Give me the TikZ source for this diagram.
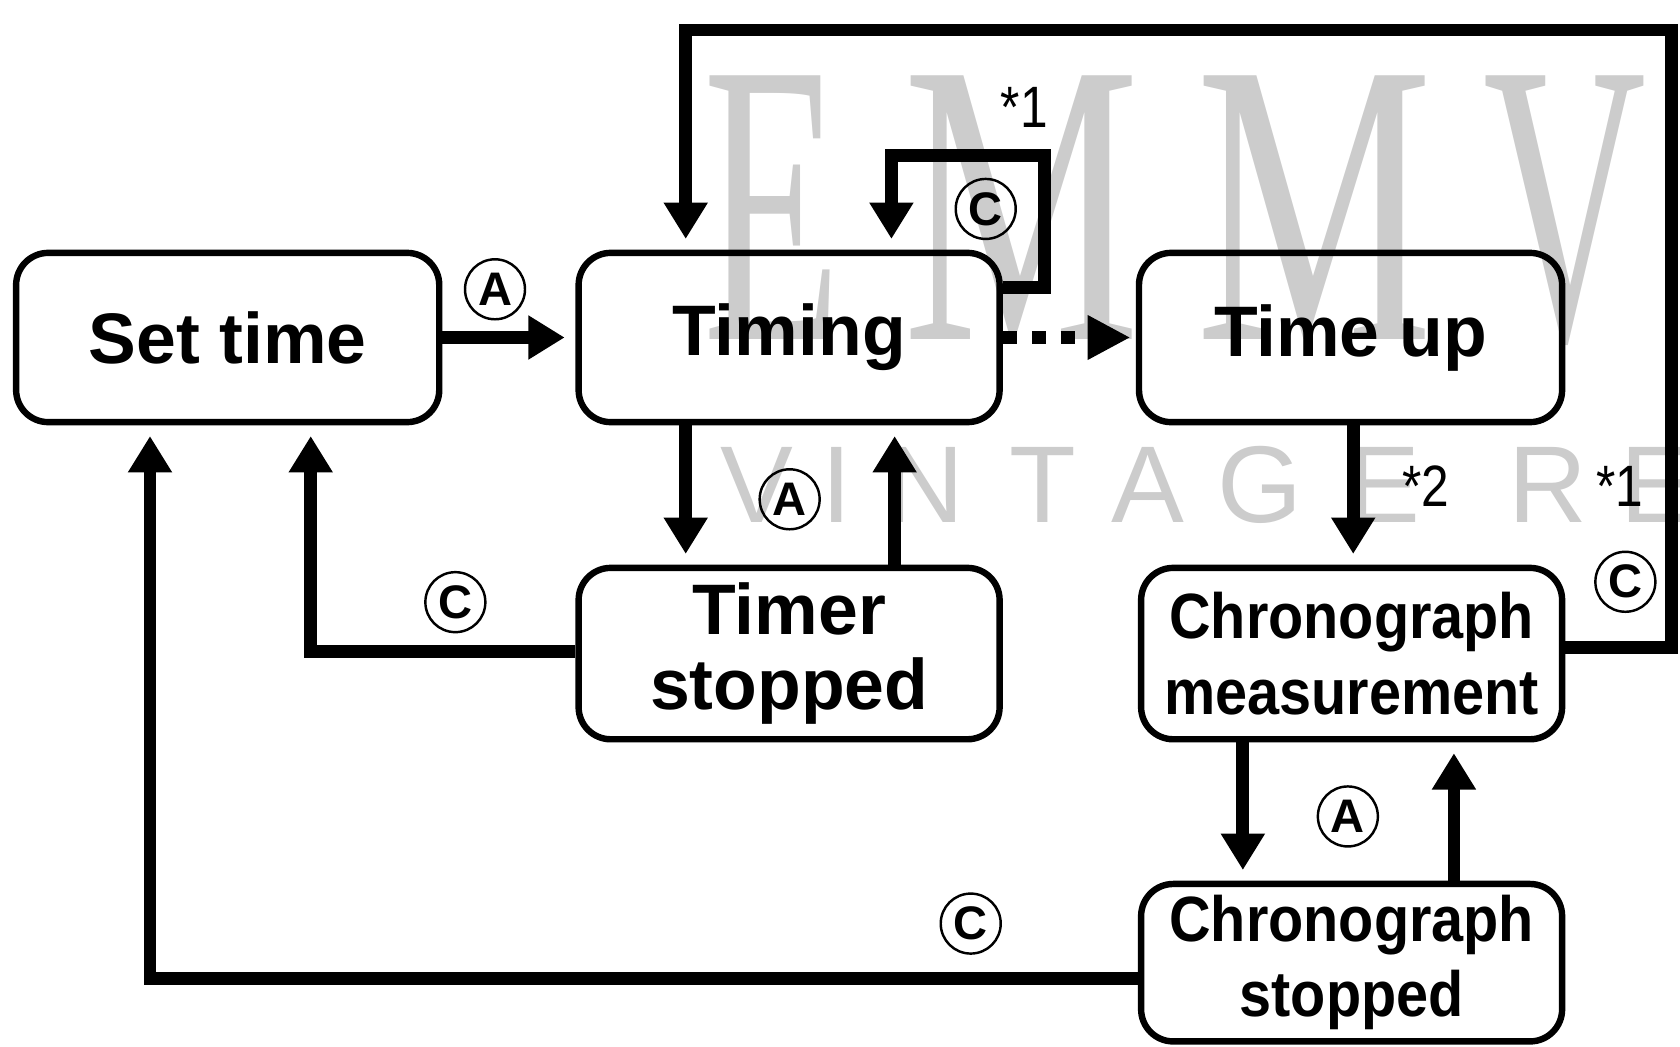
\documentclass[tikz,border=0pt]{standalone}
\usepackage{fontspec}
\setmainfont{Liberation Sans}
\newfontfamily\narrowsans[FakeStretch=0.9]{Liberation Sans}
\newfontfamily\thinsans[FakeStretch=0.85]{Liberation Sans}
\newfontfamily\wmserif{Liberation Serif}
\usetikzlibrary{arrows.meta}
\definecolor{wmgray}{RGB}{204,204,204}
\begin{document}
\begin{tikzpicture}[x=0.02cm, y=-0.02cm,
  box/.style={draw, line width=0.12cm, rounded corners=0.6cm, minimum width=7.86cm,
    minimum height=3.16cm, inner sep=0pt, align=center,
    font=\bfseries\fontsize{38}{40}\selectfont},
  narrowbox/.style={box, font=\narrowsans\bfseries\fontsize{34}{40}\selectfont},
  flow/.style={line width=0.24cm, -{Triangle[width=0.78cm,length=0.68cm]}, shorten >=0.2cm},
  dotflow/.style={line width=0.24cm, dash pattern=on 0.26cm off 0.28cm,
    -{Triangle[width=0.78cm,length=0.8cm]}, shorten >=0.1cm},
  circ/.style={draw, circle, line width=1.3pt, minimum size=1.12cm, inner sep=0pt,
    font=\bfseries\fontsize{25}{25}\selectfont},
  note/.style={font=\thinsans\fontsize{31}{31}\selectfont, inner sep=0pt, anchor=base},
  wms/.style={text=wmgray, inner sep=0pt, anchor=base, font=\wmserif\fontsize{214}{214}\selectfont},
  wmv/.style={text=wmgray, inner sep=0pt, anchor=base, font=\fontsize{58}{58}\selectfont}
]
\useasboundingbox (0,0) rectangle (1568,977);
% watermark
\begin{scope}
\clip (0,0) rectangle (1568,977);
\node[wms] (wE) at (721,317) {\scalebox{0.56}[1]{E}};
\node[wms] (wM1) at (954,317) {\scalebox{0.66}[1]{M}};
\node[wms] (wM2) at (1227,317) {\scalebox{0.66}[1]{M}};
\node[wms] (wV) at (1461,317) {\scalebox{0.56}[1]{V}};
\node[wmv] (v1) at (706,488) {V};
\node[wmv] (v2) at (781,488) {I};
\node[wmv] (v3) at (863,488) {N};
\node[wmv] (v4) at (973,488) {T};
\node[wmv] (v5) at (1071,488) {A};
\node[wmv] (v6) at (1176,488) {G};
\node[wmv] (v7) at (1292,488) {E};
\node[wmv] (v8) at (1445,488) {R};
\node[wmv] (v9) at (1546,488) {E};
\end{scope}

% states
\node[box, minimum width=7.9cm] (settime) at (212.5,315) {Set time};
\node[box] (timing) at (736.5,315) {Timing};
\node[box, minimum width=7.9cm] (timeup) at (1260.5,315) {Time up};
\node[box, minimum height=3.2cm] (timerstop) at (736.5,610) {Timer\\stopped};
\node[narrowbox, minimum height=3.2cm] (chronomeas) at (1261.5,610) {Chronograph\\measurement};
\node[narrowbox, minimum height=2.94cm] (chronostop) at (1261.5,898.5) {Chronograph\\stopped};

% connectors
\draw[flow] (settime.east) -- (timing.west);
\draw[dotflow] (timing.east) -- (timeup.west);
\draw[flow] (timing.east |- 0,268) -- (975,268) -- (975,145) -- (832,145) -- (timing.north -| 832,0);
\draw[flow] (chronomeas.east |- 0,604) -- (1560,604) -- (1560,28) -- (640,28) -- (timing.north -| 640,0);
\draw[flow] (timing.south -| 640,0) -- (timerstop.north -| 640,0);
\draw[flow] (timerstop.north -| 835,0) -- (timing.south -| 835,0);
\draw[flow] (timerstop.west |- 0,608) -- (290,608) -- (settime.south -| 290,0);
\draw[flow] (timeup.south -| 1263,0) -- (chronomeas.north -| 1263,0);
\draw[flow] (chronomeas.south -| 1160,0) -- (chronostop.north -| 1160,0);
\draw[flow] (chronostop.north -| 1357,0) -- (chronomeas.south -| 1357,0);
\draw[flow] (chronostop.west |- 0,913) -- (140,913) -- (settime.south -| 140,0);

% button labels
\node[circ] (l1) at (462,270) {A};
\node[circ] (l2) at (920,195) {C};
\node[circ] (l3) at (737,466) {A};
\node[circ] (l4) at (425,562) {C};
\node[circ] (l5) at (1517,543) {C};
\node[circ] (l6) at (1258,762) {A};
\node[circ] (l7) at (906,862) {C};

% notes
\node[note] (n1) at (956,119) {*1};
\node[note] (n2) at (1331,473) {*2};
\node[note] (n3) at (1512,473) {*1};
\end{tikzpicture}
\end{document}
